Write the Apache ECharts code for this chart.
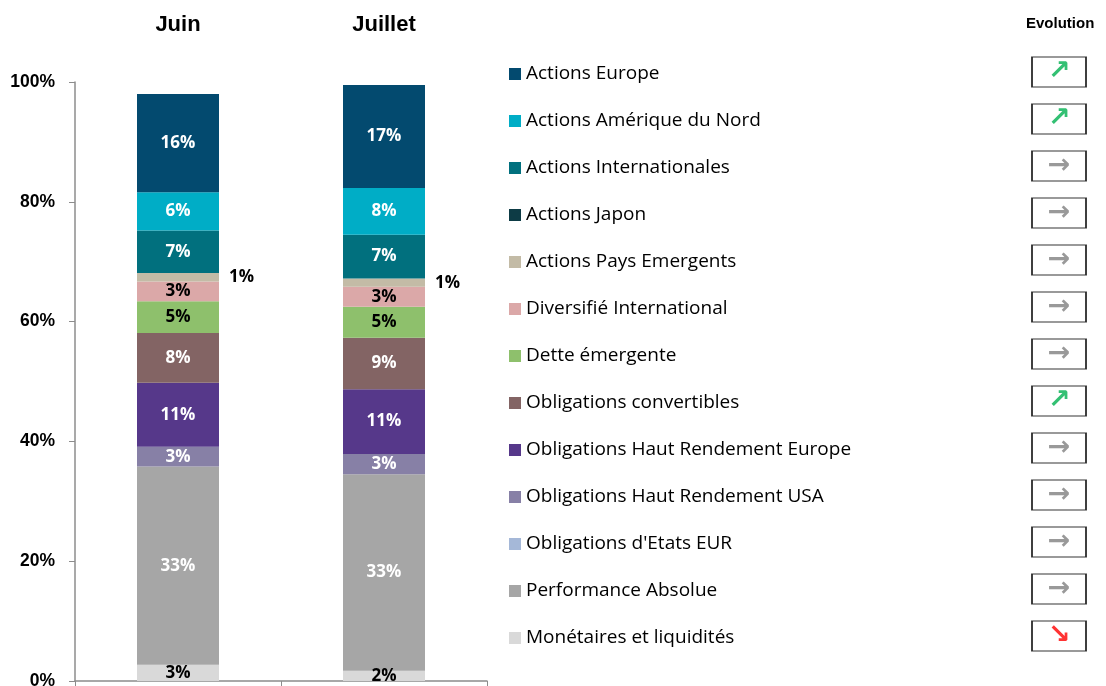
<!DOCTYPE html>
<html>
<head>
<meta charset="utf-8">
<script src="https://cdn.jsdelivr.net/npm/echarts@6/dist/echarts.min.js"></script>
<style>
  html, body { margin: 0; padding: 0; background: #fff; }
  #main { width: 1106px; height: 686px; }
</style>
</head>
<body>
<div id="main"></div>
<script>
var categories = ['Juin', 'Juillet'];

// de haut en bas, comme la légende
var names = [
  'Actions Europe',
  'Actions Amérique du Nord',
  'Actions Internationales',
  'Actions Japon',
  'Actions Pays Emergents',
  'Diversifié International',
  'Dette émergente',
  'Obligations convertibles',
  'Obligations Haut Rendement Europe',
  'Obligations Haut Rendement USA',
  "Obligations d'Etats EUR",
  'Performance Absolue',
  'Monétaires et liquidités'
];
var juin    = [16.4, 6.4, 7.1, 0, 1.4, 3.3, 5.3, 8.3, 10.7, 3.3, 0, 33.1, 2.7];
var juillet = [17.2, 7.8, 7.3, 0, 1.4, 3.3, 5.2, 8.6, 10.8, 3.4, 0, 32.8, 1.7];
var evolution = ['up', 'up', 'flat', 'flat', 'flat', 'flat', 'flat', 'up', 'flat', 'flat', 'flat', 'flat', 'down'];

var colors = ['#034a6f', '#00adc6', '#01707e', '#0d3b45', '#c3bba6', '#dba8a8', '#8ec06c',
              '#836464', '#56388a', '#8780a6', '#a5b8d8', '#a6a6a6', '#d9d9d9'];
var darkText = ['Diversifié International', 'Dette émergente', 'Monétaires et liquidités'];
var outsideLabel = ['Actions Pays Emergents'];

var arrowGlyph = { up: '↗', flat: '→', down: '↘' };
var arrowColor = { up: '#00b050', flat: '#808080', down: '#ff0000' };

var chart = echarts.init(document.getElementById('main'));

var series = [];
// empilement du bas vers le haut
for (var i = names.length - 1; i >= 0; i--) {
  var outside = outsideLabel.indexOf(names[i]) >= 0;
  series.push({
    name: names[i],
    type: 'bar',
    stack: 'total',
    barWidth: 82,
    xAxisIndex: 0,
    yAxisIndex: 0,
    itemStyle: { color: colors[i] },
    label: {
      show: true,
      position: outside ? 'right' : 'inside',
      distance: 10,
      color: (outside || darkText.indexOf(names[i]) >= 0) ? '#000' : '#fff',
      fontFamily: 'Open Sans',
      fontWeight: 'bold',
      fontSize: 17,
      formatter: function (p) { return p.value < 0.5 ? '' : Math.round(p.value) + '%'; }
    },
    data: [juin[i], juillet[i]]
  });
}

series.push({
  name: 'evolution',
  type: 'scatter',
  xAxisIndex: 2,
  yAxisIndex: 1,
  symbol: 'rect',
  symbolSize: [54, 30],
  silent: true,
  itemStyle: { color: '#fff', borderColor: '#000', borderWidth: 1.4 },
  label: {
    show: true,
    position: 'inside',
    fontFamily: 'DejaVu Sans',
    fontWeight: 'bold',
    fontSize: 27,
    formatter: function (p) { return arrowGlyph[evolution[p.dataIndex]]; }
  },
  data: names.map(function (n, k) {
    return {
      value: ['e', n],
      label: { color: arrowColor[evolution[k]] }
    };
  })
});

var option = {
  animation: false,
  title: {
    text: 'Evolution',
    left: 1021,
    top: 11,
    textStyle: { fontFamily: 'Liberation Sans', fontWeight: 'bold', fontSize: 15, color: '#000' }
  },
  legend: {
    orient: 'vertical',
    left: 504,
    top: 59,
    icon: 'rect',
    itemWidth: 12,
    itemHeight: 12,
    itemGap: 27,
    data: names,
    selectedMode: false,
    textStyle: { fontFamily: 'Open Sans', fontSize: 19, color: '#000', lineHeight: 20 }
  },
  grid: [
    { left: 75, right: 619, top: 82, bottom: 5, containLabel: false, outerBoundsMode: 'none' },
    { left: 1032, right: 20, top: 48.5, bottom: 26.5, containLabel: false, outerBoundsMode: 'none' }
  ],
  xAxis: [
    {
      type: 'category',
      gridIndex: 0,
      data: categories,
      position: 'bottom',
      axisLine: { lineStyle: { color: '#8c8c8c', width: 1.5 } },
      axisTick: { show: true, length: 6, lineStyle: { color: '#8c8c8c' } },
      axisLabel: { show: false }
    },
    {
      type: 'category',
      gridIndex: 0,
      data: categories,
      position: 'top',
      axisLine: { show: false },
      axisTick: { show: false },
      axisLabel: { margin: 46, fontFamily: 'Liberation Sans', fontWeight: 'bold', fontSize: 22, color: '#000' }
    },
    {
      type: 'category',
      gridIndex: 1,
      data: ['e'],
      show: false
    }
  ],
  yAxis: [
    {
      type: 'value',
      gridIndex: 0,
      min: 0,
      max: 100,
      interval: 20,
      splitLine: { show: false },
      axisLine: { show: true, lineStyle: { color: '#8c8c8c', width: 1.5 } },
      axisTick: { show: true, length: 6, inside: false, lineStyle: { color: '#8c8c8c' } },
      axisLabel: { formatter: '{value}%', margin: 20, fontFamily: 'Liberation Sans', fontWeight: 'bold', fontSize: 17.5, color: '#000' }
    },
    {
      type: 'category',
      gridIndex: 1,
      data: names,
      inverse: true,
      show: false
    }
  ],
  series: series
};

chart.setOption(option);
</script>
</body>
</html>
